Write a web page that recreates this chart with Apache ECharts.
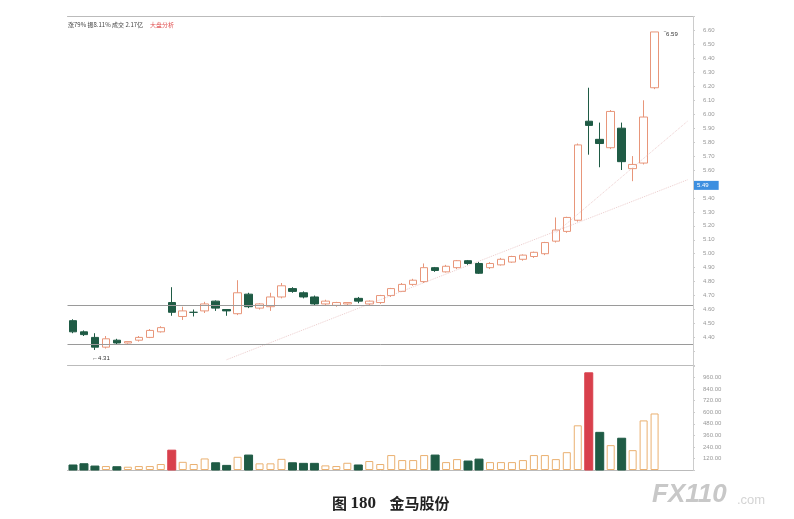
<!DOCTYPE html>
<html><head><meta charset="utf-8">
<script src="https://cdn.jsdelivr.net/npm/echarts@6/dist/echarts.min.js"></script>
<style>html,body{margin:0;padding:0;background:#fff}#c{width:794px;height:519px}</style>
</head><body><div id="c"></div>
<script>
// ---- data ----
const openP  = [4.52,4.44,4.40,4.33,4.38,4.36,4.38,4.40,4.44,4.65,4.55,4.58,4.59,4.66,4.60,4.57,4.71,4.61,4.62,4.69,4.75,4.72,4.69,4.64,4.63,4.64,4.68,4.64,4.65,4.70,4.73,4.78,4.80,4.90,4.87,4.90,4.95,4.93,4.90,4.92,4.94,4.96,4.98,5.00,5.09,5.16,5.24,5.95,5.82,5.76,5.90,5.61,5.65,6.19];
const closeP = [4.44,4.42,4.33,4.39,4.36,4.37,4.40,4.45,4.47,4.58,4.59,4.58,4.64,4.61,4.59,4.72,4.62,4.64,4.69,4.77,4.73,4.69,4.64,4.66,4.65,4.65,4.66,4.66,4.70,4.75,4.78,4.81,4.90,4.88,4.91,4.95,4.93,4.86,4.93,4.96,4.98,4.99,5.01,5.08,5.17,5.26,5.78,5.92,5.79,6.02,5.66,5.64,5.98,6.59];
const lowP   = [4.43,4.41,4.31,4.32,4.35,4.355,4.37,4.395,4.435,4.555,4.525,4.55,4.575,4.59,4.555,4.56,4.61,4.60,4.59,4.68,4.72,4.68,4.63,4.63,4.62,4.63,4.645,4.63,4.64,4.69,4.725,4.77,4.79,4.87,4.865,4.89,4.92,4.855,4.89,4.915,4.935,4.95,4.97,4.99,5.08,5.15,5.23,5.71,5.62,5.75,5.60,5.52,5.64,6.18];
const highP  = [4.53,4.45,4.43,4.41,4.39,4.37,4.41,4.46,4.48,4.76,4.62,4.60,4.655,4.665,4.60,4.81,4.72,4.645,4.72,4.79,4.76,4.73,4.70,4.67,4.655,4.65,4.69,4.665,4.705,4.755,4.79,4.82,4.93,4.905,4.92,4.955,4.955,4.94,4.94,4.97,4.985,4.995,5.015,5.085,5.26,5.265,5.79,6.19,5.94,6.03,5.94,5.70,6.10,6.59];
const volume = [52,65,41,41,34,34,41,41,62,206,85,62,120,75,48,137,155,69,69,116,75,69,69,48,41,75,52,93,62,155,103,103,155,155,82,113,93,113,82,82,82,103,155,155,113,185,464,1009,391,258,330,206,515,587];
const redVolumeDays = [9, 47];
const emptySlots = 3;
const priceTicks = {min: 4.2, max: 6.7, interval: 0.1};
const volTicks = {min: 0, max: 1080, interval: 120};
const levelLines = [4.63, 4.35];
const lastPrice = 5.49;
const highMark = {idx: 53, price: 6.59};
const lowMark = {idx: 2, price: 4.31};
const trendA = [[14, 4.24], [56, 5.53]];
const trendB = [[44, 5.15], [56, 5.95]];
const infoLeft = '涨79% 振8.11% 成交 2.17亿 ';
const infoRight = '大盘分析';

// ---- build ----
const n = openP.length + emptySlots;
const cats = Array.from({length: n}, (_, i) => String(i + 1));
const kData = openP.map((o, i) => [o, closeP[i], lowP[i], highP[i]]);
for (let i = 0; i < emptySlots; i++) kData.push('-');
const UP = '#e8967a', DOWN = '#1f5b45', RED = '#d8404c';
const volData = volume.map((v, i) => {
  const up = closeP[i] >= openP[i];
  let st;
  if (redVolumeDays.includes(i)) st = {color: RED, borderColor: RED};
  else if (up) st = {color: '#fff', borderColor: '#eab070', borderWidth: 1};
  else st = {color: DOWN, borderColor: DOWN};
  return {value: v, itemStyle: st};
});
for (let i = 0; i < emptySlots; i++) volData.push('-');

const chart = echarts.init(document.getElementById('c'), null, {renderer: 'canvas'});
chart.setOption({
  animation: false,
  backgroundColor: '#fff',
  title: {
    text: '{a|图 }{b|180}{a|    金马股份}',
    left: 327, top: 490,
    textStyle: {rich: {
      a: {fontFamily: 'Noto Sans CJK SC', fontSize: 15, fontWeight: 'bold', color: '#222'},
      b: {fontFamily: 'Liberation Serif', fontSize: 17, fontWeight: 'bold', color: '#222'}
    }}
  },
  graphic: [
    {type: 'text', left: 68, top: 22, style: {text: infoLeft, fontSize: 6, fill: '#444', fontFamily: 'Noto Sans CJK SC'}},
    {type: 'text', left: 150, top: 22, style: {text: infoRight, fontSize: 6, fill: '#e05050', fontFamily: 'Noto Sans CJK SC'}},
    {type: 'text', left: 652, top: 482, style: {text: 'FX110', fontSize: 26, fontWeight: 'bold', fontStyle: 'italic', fill: '#c8c8c8', fontFamily: 'Liberation Sans'}},
    {type: 'text', left: 737, top: 494, style: {text: '.com', fontSize: 13, fill: '#d4d4d4', fontFamily: 'Liberation Sans'}}
  ],
  grid: [
    {left: 67.5, right: 101, top: 16.6, height: 348.7},
    {left: 67.5, right: 101, top: 366, height: 104}
  ],
  xAxis: [
    {type: 'category', data: cats, gridIndex: 0, boundaryGap: true,
     axisLine: {show: true, lineStyle: {color: '#bbb'}}, axisTick: {show: false}, axisLabel: {show: false}, splitLine: {show: false}},
    {type: 'category', data: cats, gridIndex: 0, position: 'top', boundaryGap: true,
     axisLine: {show: true, lineStyle: {color: '#bbb'}}, axisTick: {show: false}, axisLabel: {show: false}},
    {type: 'category', data: cats, gridIndex: 1, boundaryGap: true,
     axisLine: {show: true, lineStyle: {color: '#bbb'}}, axisTick: {show: false}, axisLabel: {show: false}}
  ],
  yAxis: [
    {type: 'value', gridIndex: 0, position: 'right', min: priceTicks.min, max: priceTicks.max, interval: priceTicks.interval,
     axisLine: {show: true, lineStyle: {color: '#ccc'}}, axisTick: {show: true, length: 2, lineStyle: {color: '#ccc'}},
     splitLine: {show: false},
     axisLabel: {fontSize: 6, color: '#999', margin: 10,
       formatter: v => (v < 4.35 || v > 6.65) ? '' : v.toFixed(2)}},
    {type: 'value', gridIndex: 1, position: 'right', min: volTicks.min, max: volTicks.max, interval: volTicks.interval,
     axisLine: {show: true, lineStyle: {color: '#ccc'}}, axisTick: {show: true, length: 2, lineStyle: {color: '#ccc'}},
     splitLine: {show: false},
     axisLabel: {fontSize: 6, color: '#999', margin: 10, formatter: v => (v === 0 || v >= 1080) ? '' : (v * 1.0).toFixed(2)}}
  ],
  series: [
    {type: 'candlestick', xAxisIndex: 0, yAxisIndex: 0, data: kData, barWidth: 8,
     itemStyle: {color: '#fff', color0: DOWN, borderColor: UP, borderColor0: DOWN, borderWidth: 1},
     markLine: {silent: true, symbol: 'none',
       data: [
         ...levelLines.map(v => ({yAxis: v, lineStyle: {color: '#9a9a9a', width: 1, type: 'solid'}, label: {show: false}})),
         {yAxis: lastPrice, lineStyle: {color: 'rgba(0,0,0,0)', width: 1}, label: {show: true, position: 'end', formatter: lastPrice.toFixed(2), backgroundColor: '#3d8fe0', color: '#fff', fontSize: 6, padding: [2, 10, 1, 3], distance: 1}}
       ]},
     markPoint: {symbol: 'circle', symbolSize: 1, silent: true, itemStyle: {color: 'rgba(0,0,0,0)'}, data: [
       {coord: [highMark.idx, highMark.price], value: highMark.price, label: {show: true, position: 'right', formatter: '‾' + highMark.price.toFixed(2), fontSize: 6, color: '#333', offset: [4, 2]}},
       {coord: [lowMark.idx, lowMark.price], value: lowMark.price, label: {show: true, position: 'bottom', formatter: '←' + lowMark.price.toFixed(2), fontSize: 6, color: '#333', offset: [6, 0]}}
     ]}
    },
    {type: 'line', xAxisIndex: 0, yAxisIndex: 0, data: trendA, showSymbol: false, silent: true,
     lineStyle: {color: '#e4b8b8', width: 1, type: 'dotted', opacity: 0.7}},
    {type: 'line', xAxisIndex: 0, yAxisIndex: 0, data: trendB, showSymbol: false, silent: true,
     lineStyle: {color: '#e4b8b8', width: 1, type: 'dotted', opacity: 0.7}},
    {type: 'bar', xAxisIndex: 2, yAxisIndex: 1, data: volData, barWidth: 8}
  ]
});
</script></body></html>
